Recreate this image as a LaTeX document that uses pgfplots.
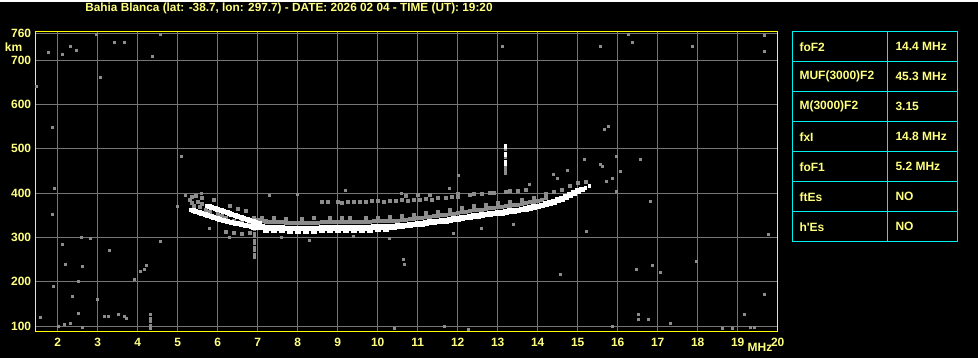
\documentclass[border=0pt]{standalone}
\usepackage{fontspec}
\setmainfont{Liberation Sans}
\usepackage{pgfplots}
\pgfplotsset{compat=1.18}
\definecolor{ytext}{RGB}{255,255,128}
\definecolor{yaxis}{RGB}{255,255,0}
\definecolor{gridgray}{RGB}{118,118,118}
\definecolor{dotgray}{RGB}{140,140,140}
\definecolor{tcyan}{RGB}{0,240,240}
\begin{document}
\begin{tikzpicture}
\fill[black] (0pt,0pt) rectangle (978pt,356pt);
\begin{axis}[
  at={(35.7pt,26pt)}, anchor=south west,
  scale only axis, width=742pt, height=300pt,
  xmin=1.45, xmax=20, ymin=87, ymax=764,
  axis line style={draw=yaxis, line width=1.2pt},
  grid=major, major grid style={draw=gridgray, line width=0.9pt},
  major tick length=0pt,
  xtick={2,3,...,20}, ytick={100,200,...,700,760},
  tick label style={text=ytext, font=\bfseries\fontsize{12}{14}\selectfont},
  /pgf/number format/assume math mode=true,
  xticklabel style={yshift=-3pt},
  yticklabel style={xshift=-1pt},
  clip=true,
]
% scattered noise
\addplot[only marks, mark=square*, mark size=1pt, color=dotgray, mark options={line width=0pt}] coordinates {
(1.76,717) (2.11,712) (2.31,730) (2.46,721) (2.96,757) (3.43,739) (3.66,739) (4.36,708) (4.58,757) (13.13,730)
(1.48,640) (1.88,549) (1.93,410) (1.88,351) (1.58,119) (2.01,98) (2.18,103) (2.31,105) (2.51,128) (2.61,96)
(3.18,121) (3.26,121) (3.51,125) (3.66,121) (3.73,116) (4.33,95) (4.33,102) (4.33,110) (4.33,118) (4.33,126)
(2.11,283) (2.36,166) (2.51,200) (2.61,234) (2.81,297) (3.06,662) (3.93,205) (4.06,223) (4.18,227) (4.21,236)
(4.56,290) (5.09,482) (15.56,730) (16.26,757) (16.36,741) (16.46,227) (16.56,475) (16.86,236) (17.06,222)
(17.96,245) (17.88,730) (19.18,126) (19.68,755) (19.68,719) (19.78,306) (19.68,171) (14.56,216) (15.21,313)
(15.96,403) (16.06,448) (15.63,459) (15.73,426) (16.81,380) (16.51,125) (16.51,114) (16.78,114) (17.33,105)
(15.88,98) (18.63,94) (18.88,94) (19.31,96) (19.41,96) (10.41,94) (11.68,98) (12.26,92) (10.64,250) (10.66,238)
(12.01,439) (14.39,443) (14.5,432) (14.74,452) (15.18,477) (15.21,425) (15.58,464) (15.78,550) (15.66,543)
(15.98,482) (15.86,432) (2.2,240) (2.6,300) (3.3,270) (1.9,190) (3.0,160)
(7.6,300) (8.3,292) (9.4,302) (10.3,298) (11.9,310) (12.6,320) (13.4,330) (6.3,300) (5.8,320) (5.2,395)
(5.0,370) (5.6,400) (7.3,395) (8.0,398) (9.2,405) (10.6,400) (11.8,410) (13.8,420)
(6.93,255) (6.93,262) (6.93,270) (6.93,278) (6.93,286) (6.93,294) (6.93,302) (6.93,310) (6.93,318)
(13.19,498) (13.19,480) (13.19,458) (13.19,450) (13.19,444)
};
% gray echo band and clutter
\addplot[only marks, mark=square*, mark size=1.5pt, color=dotgray, mark options={line width=0pt}] coordinates {
(5.3,385) (5.35,378) (5.4,372) (5.5,380) (5.55,368) (5.6,375) (5.7,362) (5.8,358) (5.9,384) (6.0,352)
(6.1,348) (6.2,345) (6.3,370) (6.4,338) (6.5,365) (6.6,335) (6.7,360) (6.8,332) (6.9,345) (7.0,340) (7.2,338)
(5.35,392) (5.45,394) (5.6,390) (6.2,312) (6.4,310) (6.6,308) (6.8,310)
(6.9,337) (7.0,336) (7.1,336) (7.2,335) (7.3,335) (7.4,334) (7.5,334) (7.6,334) (7.7,333) (7.8,333)
(7.9,333) (8.0,333) (8.1,333) (8.2,333) (8.3,333) (8.4,333) (8.5,333) (8.6,334) (8.7,334) (8.8,334)
(8.9,334) (9.0,334) (9.1,334) (9.2,334) (9.3,334) (9.4,334) (9.5,335) (9.6,335) (9.7,335) (9.8,335)
(9.9,336) (10.0,336) (10.1,336) (10.2,337) (10.3,337) (10.4,337) (10.5,338) (10.6,339) (10.7,340) (10.8,341)
(10.9,342) (11.0,343) (11.1,344) (11.2,346) (11.3,347) (11.4,348) (11.5,349) (11.6,350) (11.7,351) (11.8,353)
(11.9,354) (12.0,355) (12.1,357) (12.2,358) (12.3,359) (12.4,361) (12.5,362) (12.6,363) (12.7,365) (12.8,366)
(12.9,367) (13.0,368) (13.1,369) (13.2,371) (13.3,372) (13.4,373) (13.5,374) (13.6,376) (13.7,378) (13.8,379)
(13.9,381) (14.0,383) (14.1,385) (14.2,388)
(7.1,345) (7.4,343) (7.7,342) (8.1,342) (8.4,343) (8.8,343) (9.1,343) (9.3,344) (9.7,344) (10.0,345)
(10.3,346) (10.6,348) (10.9,351) (11.2,355) (11.5,358) (11.8,362) (12.1,366) (12.4,370) (12.7,374) (13.0,377)
(13.3,381) (13.6,385) (13.9,390) (14.2,397) (14.4,403) (14.6,408) (14.8,416) (15.0,422) (15.2,425)
(8.6,380) (8.75,380) (9.0,381) (9.1,378) (9.25,381) (9.4,379) (9.55,381) (9.7,380) (9.85,382) (10.0,382)
(10.15,380) (10.3,383) (10.45,382) (10.6,384) (10.75,383) (10.9,385) (11.05,384) (11.2,386) (11.35,385)
(11.5,388) (11.7,390) (11.85,391) (12.0,392) (12.3,395) (12.6,398) (12.9,400) (13.2,402) (13.5,405)
(10.7,394) (11.0,395) (11.3,396) (12.0,397) (12.4,398) (12.8,401) (13.3,404) (13.7,408)
};
% white traces, left branches (thinner)
\addplot[only marks, mark=square*, mark size=1.8pt, color=white, mark options={line width=0pt}] coordinates {
(5.35,362) (5.4,360.5) (5.45,359) (5.5,357.5) (5.55,356) (5.6,354.5) (5.65,353) (5.7,351.5) (5.75,350) (5.8,348.5)
(5.85,347) (5.9,345.5) (5.95,344) (6.0,342.5) (6.05,341) (6.1,339.5) (6.15,338) (6.2,337) (6.25,336) (6.3,335)
(6.35,334) (6.4,333) (6.45,332) (6.5,331) (6.55,330) (6.6,329) (6.65,328) (6.7,327) (6.75,326) (6.8,325.5) (6.85,325)
(5.75,371) (5.8,369.5) (5.85,368) (5.9,366.5) (5.95,365) (6.0,363.5) (6.05,362) (6.1,360.5) (6.15,359) (6.2,357.5)
(6.25,356) (6.3,354) (6.35,352) (6.4,350.5) (6.45,349) (6.5,347.5) (6.55,346) (6.6,344.5) (6.65,343) (6.7,341.5)
(6.75,340) (6.8,338.5) (6.85,337) (6.9,335.5) (6.95,334) (7.0,332.5) (7.05,331)
};
% white main trace
\addplot[only marks, mark=square*, mark size=2.4pt, color=white, mark options={line width=0pt}] coordinates {
(6.9,324) (7.0,323) (7.1,323) (7.2,322) (7.3,322) (7.4,321) (7.5,321) (7.6,321) (7.7,320) (7.8,320)
(7.9,320) (8.0,320) (8.1,320) (8.2,320) (8.3,320) (8.4,320) (8.5,320) (8.6,321) (8.7,321) (8.8,321)
(8.9,321) (9.0,321) (9.1,321) (9.2,321) (9.3,321) (9.4,321) (9.5,322) (9.6,322) (9.7,322) (9.8,322)
(9.9,323) (10.0,323) (10.1,323) (10.2,324) (10.3,324) (10.4,324) (10.5,325) (10.6,326) (10.7,327) (10.8,328)
(10.9,329) (11.0,330) (11.1,331) (11.2,333) (11.3,334) (11.4,335) (11.5,336) (11.6,337) (11.7,338) (11.8,340)
(11.9,341) (12.0,342) (12.1,344) (12.2,345) (12.3,346) (12.4,348) (12.5,349) (12.6,350) (12.7,352) (12.8,353)
(12.9,354) (13.0,355) (13.1,356) (13.2,358) (13.3,359) (13.4,360) (13.5,361) (13.6,363) (13.7,365) (13.8,366)
(13.9,368) (14.0,370) (14.1,372) (14.2,375) (14.3,377) (14.4,380) (14.5,384) (14.6,387) (14.7,391) (14.8,395)
(14.9,400) (15.0,404) (15.1,408)
(7.2,317) (7.4,316) (7.6,316) (7.8,315) (8.0,315) (8.2,315) (8.4,315) (8.6,316) (8.8,316) (9.0,316)
(9.2,316) (9.4,316) (9.6,317) (9.8,317) (10.0,318) (10.2,319)
};
\addplot[only marks, mark=square*, mark size=1.2pt, color=white, mark options={line width=0pt}] coordinates {
(13.19,508) (13.19,503) (13.19,490) (13.19,486) (13.19,470) (13.19,466) (15.2,412) (15.3,416)
};
\end{axis}
% title
\node[text=ytext, font=\bfseries\fontsize{11.8}{13}\selectfont] at (289pt,349pt)
  {Bahia Blanca (lat: -38.7, lon: 297.7) - DATE: 2026 02 04 - TIME (UT): 19:20};
\node[text=ytext, font=\bfseries\fontsize{12}{14}\selectfont] at (13.5pt,310.5pt) {km};
\node[text=ytext, font=\bfseries\fontsize{12}{14}\selectfont] at (760pt,10pt) {MHz};
% table
\begin{scope}[tcyan, line width=1pt]
\draw (792pt,116pt) rectangle (957pt,326pt);
\foreach \yy in {296,266,236,206,176,146} \draw (792pt,\yy pt) -- (957pt,\yy pt);
\draw (887pt,116pt) -- (887pt,326pt);
\end{scope}
\begin{scope}[every node/.style={text=ytext, anchor=west, font=\bfseries\fontsize{12}{14}\selectfont}]
\node at (796pt,311pt) {foF2};        \node at (892pt,311pt) {14.4 MHz};
\node at (796pt,281pt) {MUF(3000)F2}; \node at (892pt,281pt) {45.3 MHz};
\node at (796pt,251pt) {M(3000)F2};   \node at (892pt,251pt) {3.15};
\node at (796pt,221pt) {fxI};         \node at (892pt,221pt) {14.8 MHz};
\node at (796pt,191pt) {foF1};        \node at (892pt,191pt) {5.2 MHz};
\node at (796pt,161pt) {ftEs};        \node at (892pt,161pt) {NO};
\node at (796pt,131pt) {h\textquotesingle Es}; \node at (892pt,131pt) {NO};
\end{scope}
\end{tikzpicture}
\end{document}
